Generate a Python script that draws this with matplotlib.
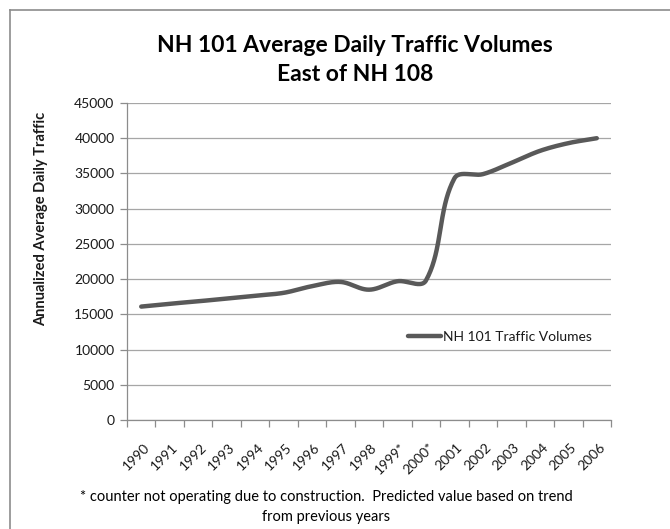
import numpy as np
import matplotlib
matplotlib.use("Agg")
import matplotlib.pyplot as plt
from matplotlib.transforms import ScaledTranslation

# ---- data ----
years = ['1990', '1991', '1992', '1993', '1994', '1995', '1996', '1997', '1998',
         '1999*', '2000*', '2001', '2002', '2003', '2004', '2005', '2006']
volumes = [16100, 16500, 16850, 17250, 17650, 18050, 19000, 19600, 18500,
           19700, 19800, 34300, 34900, 36500, 38200, 39300, 40000]
y_ticks = [0, 5000, 10000, 15000, 20000, 25000, 30000, 35000, 40000, 45000]
series_name = 'NH 101 Traffic Volumes'
title_text = 'NH 101 Average Daily Traffic Volumes\nEast of NH 108'
y_label = 'Annualized Average Daily Traffic'
footnote = ('* counter not operating due to construction.  Predicted value based on trend\n'
            'from previous years')

FONT = ['Lato', 'DejaVu Sans']
plt.rcParams['font.family'] = FONT

W, H = 670, 529
fig = plt.figure(figsize=(W / 100, H / 100), dpi=100)
fig.patch.set_facecolor('white')

# outer chart-area border (left and top visible)
fig.add_artist(plt.Line2D([10 / W, 10 / W], [0, 1 - 10 / H], transform=fig.transFigure,
                          color='#8c8c8c', lw=1.2))
fig.add_artist(plt.Line2D([10 / W, 1], [1 - 10 / H, 1 - 10 / H], transform=fig.transFigure,
                          color='#8c8c8c', lw=1.2))

L, R, T, B = 127, 611, 103, 420
ax = fig.add_axes([L / W, 1 - B / H, (R - L) / W, (B - T) / H])
n = len(years)
x = np.arange(n)
ax.set_xlim(-0.5, n - 0.5)
ax.set_ylim(0, 45000)

ax.set_yticks(y_ticks)
ax.set_yticklabels([str(v) for v in y_ticks])
ax.yaxis.grid(True, color='#a6a6a6', lw=0.9)
ax.set_axisbelow(True)
ax.set_xticks(x)
ax.set_xticklabels(years)
ax.set_xticks(np.arange(n + 1) - 0.5, minor=True)
ax.tick_params(axis='x', which='major', length=0, pad=15, labelsize=10, labelcolor='#1a1a1a')
ax.tick_params(axis='x', which='minor', length=5, color='#8c8c8c', width=0.9)
ax.tick_params(axis='y', length=5, color='#8c8c8c', width=0.9, labelsize=10,
               labelcolor='#1a1a1a', pad=4)
shift = ScaledTranslation(2 / 100, 0, fig.dpi_scale_trans)
for lab in ax.get_xticklabels():
    lab.set_rotation(45)
    lab.set_ha('right')
    lab.set_va('top')
    lab.set_rotation_mode('anchor')
    lab.set_transform(lab.get_transform() + shift)
for s in ['top', 'right']:
    ax.spines[s].set_visible(False)
for s in ['left', 'bottom']:
    ax.spines[s].set_color('#8c8c8c')
    ax.spines[s].set_linewidth(0.9)

# smoothed line (Excel style) computed in display space from the data points
fig.canvas.draw()
pts = ax.transData.transform(np.column_stack([x, volumes]))
tang = np.zeros_like(pts)
tang[1:-1] = pts[2:] - pts[:-2]
tang[0] = pts[1] - pts[0]
tang[-1] = pts[-1] - pts[-2]
tang = tang / np.linalg.norm(tang, axis=1)[:, None]
curve = []
tt = np.linspace(0, 1, 40)[:, None]
for i in range(n - 1):
    p0, p3 = pts[i], pts[i + 1]
    c = np.linalg.norm(p3 - p0) / 3.0
    p1 = p0 + tang[i] * c
    p2 = p3 - tang[i + 1] * c
    seg = ((1 - tt) ** 3) * p0 + 3 * ((1 - tt) ** 2) * tt * p1 + 3 * (1 - tt) * tt ** 2 * p2 + tt ** 3 * p3
    curve.append(seg if i == 0 else seg[1:])
curve = np.vstack(curve)
data_curve = ax.transData.inverted().transform(curve)
ax.plot(data_curve[:, 0], data_curve[:, 1], color='#595959', lw=3.2,
        solid_capstyle='round', solid_joinstyle='round', label=series_name)

leg = ax.legend(loc='center left', bbox_to_anchor=(408 / W, 1 - 337 / H),
                bbox_transform=fig.transFigure, frameon=False, fontsize=10,
                handlelength=2.4, handletextpad=0.15, borderpad=0, borderaxespad=0)
for t in leg.get_texts():
    t.set_color('#1a1a1a')

fig.text(355 / W, 1 - 60 / H, title_text, ha='center', va='center', fontsize=16.5,
         fontweight='bold', color='black', linespacing=1.45)
fig.text(41 / W, 1 - 219 / H, y_label, rotation=90, ha='center', va='center',
         fontsize=10.5, fontweight='bold', color='#1a1a1a')
fig.text(326 / W, 1 - 507 / H, footnote, ha='center', va='center', fontsize=10.5,
         color='black', linespacing=1.5)

fig.savefig('out.png', dpi=100, facecolor='white')
